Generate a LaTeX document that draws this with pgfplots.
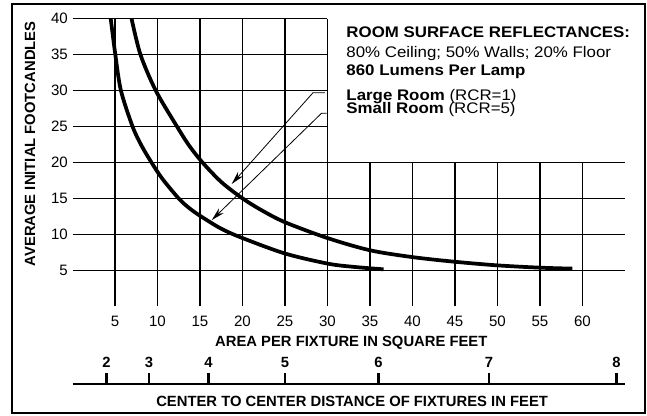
\documentclass[border=0pt]{standalone}
\usepackage{fontspec}
\setmainfont{Liberation Sans}
\newfontfamily\keyfam[FakeStretch=1.1]{Liberation Sans}
\usepackage{pgfplots}
\pgfplotsset{compat=1.18}
\usetikzlibrary{arrows.meta}

\newcommand\lblfont{\fontsize{11.1}{12}\selectfont\bfseries}
\newcommand\keyfont{\keyfam\fontsize{11.5}{12}\selectfont}

\begin{document}
\begin{tikzpicture}
\begin{axis}[
    x=6.375pt, y=5.3925pt,
    xmin=0, xmax=65, ymin=0, ymax=40,
    axis line style={draw=none},
    tick style={draw=none},
    major tick length=0pt,
    xtick={5,10,...,60},
    ytick={5,10,...,40},
    /pgf/number format/assume math mode=true,
    tick label style={font=\fontsize{11.3}{13}\selectfont},
    xticklabel style={yshift=-4pt},
    clip=false,
]
% grid, cut away behind the notes in the upper right
\pgfplotsinvokeforeach{5,10,15,20,25,30}{
  \draw[line width=0.9pt] (axis cs:#1,0) -- (axis cs:#1,40);}
\pgfplotsinvokeforeach{35,40,45,50,55,60}{
  \draw[line width=0.9pt] (axis cs:#1,0) -- (axis cs:#1,20);}
\pgfplotsinvokeforeach{5,10,15,20}{
  \draw[line width=0.9pt] (axis cs:0,#1) -- (axis cs:65,#1);}
\pgfplotsinvokeforeach{25,30,35,40}{
  \draw[line width=0.9pt] (axis cs:0,#1) -- (axis cs:30,#1);}

% Small Room (RCR=5)
\addplot[black, line width=2.8pt, smooth, tension=0.5] coordinates {
  (4.5,40) (5.04,35) (5.7,30) (7.07,25) (8.1,22.4) (9.3,20) (10.6,17.7)
  (12.5,15) (13.7,13.7) (15,12.6) (17.5,10.8) (20,9.5) (25,7.35)
  (30,5.95) (33,5.5) (36.6,5.15)
};
% Large Room (RCR=1)
\addplot[black, line width=2.8pt, smooth, tension=0.5] coordinates {
  (6.95,40) (8.0,35) (9.8,30) (12.3,25) (13.7,22.4) (15.3,20) (17.5,17.3)
  (19.9,15.1) (22.2,13.4) (25,11.7) (30,9.5) (35,7.8) (40,6.85) (45,6.2)
  (50,5.7) (55,5.38) (58.8,5.25)
};

% leaders from the notes to the curves
\draw[line width=0.6pt, -{Stealth[length=10pt, width=5pt]}]
  (axis cs:29.7,29.72) -- (axis cs:28.3,29.72) -- (axis cs:18.73,17.02);
\draw[line width=0.6pt, -{Stealth[length=10pt, width=5pt]}]
  (axis cs:29.9,26.86) -- (axis cs:29.3,26.86) -- (axis cs:16.38,12.0);

% notes
\node[anchor=base west, inner sep=0pt] at (axis cs:32.2,37.43)
  {\keyfont\bfseries ROOM SURFACE REFLECTANCES:};
\node[anchor=base west, inner sep=0pt] at (axis cs:32.2,34.65)
  {\keyfont 80\% Ceiling; 50\% Walls; 20\% Floor};
\node[anchor=base west, inner sep=0pt] at (axis cs:32.2,32.17)
  {\keyfont\bfseries 860 Lumens Per Lamp};
\node[anchor=base west, inner sep=0pt] at (axis cs:32.2,28.7)
  {\keyfont\textbf{Large Room} (RCR=1)};
\node[anchor=base west, inner sep=0pt] at (axis cs:32.2,26.86)
  {\keyfont\textbf{Small Room} (RCR=5)};

% axis titles
\node[anchor=base, rotate=90, inner sep=0pt] at (axis cs:-4.41,22.6)
  {\lblfont AVERAGE INITIAL FOOTCANDLES};
\node[anchor=base, inner sep=0pt] at (axis cs:32.8,-5.6)
  {\lblfont AREA PER FIXTURE IN SQUARE FEET};
\node[anchor=base, inner sep=0pt] at (axis cs:32.9,-13.95)
  {\lblfont CENTER TO CENTER DISTANCE OF FIXTURES IN FEET};

% distance scale: d feet apart is d^2 square feet
\draw[line width=0.8pt] (axis cs:0,-10.8) -- (axis cs:65,-10.8);
\pgfplotsinvokeforeach{4,9,16,25,36,49,64}{
  \draw[line width=2pt] (axis cs:#1,-9.27) -- (axis cs:#1,-10.8);}
\node[anchor=base, inner sep=0pt] at (axis cs:4,-8.57) {\lblfont 2};
\node[anchor=base, inner sep=0pt] at (axis cs:9,-8.57) {\lblfont 3};
\node[anchor=base, inner sep=0pt] at (axis cs:16,-8.57) {\lblfont 4};
\node[anchor=base, inner sep=0pt] at (axis cs:25,-8.57) {\lblfont 5};
\node[anchor=base, inner sep=0pt] at (axis cs:36,-8.57) {\lblfont 6};
\node[anchor=base, inner sep=0pt] at (axis cs:49,-8.57) {\lblfont 7};
\node[anchor=base, inner sep=0pt] at (axis cs:64,-8.57) {\lblfont 8};

% frame
\draw[line width=1.3pt] (axis cs:-7.12,-14.83) rectangle (axis cs:67.35,42.06);
\coordinate (bbsw) at (axis cs:-8.53,-15.24);
\coordinate (bbne) at (axis cs:67.59,42.61);
\end{axis}
\pgfresetboundingbox
\path (bbsw) rectangle (bbne);
\end{tikzpicture}
\end{document}
